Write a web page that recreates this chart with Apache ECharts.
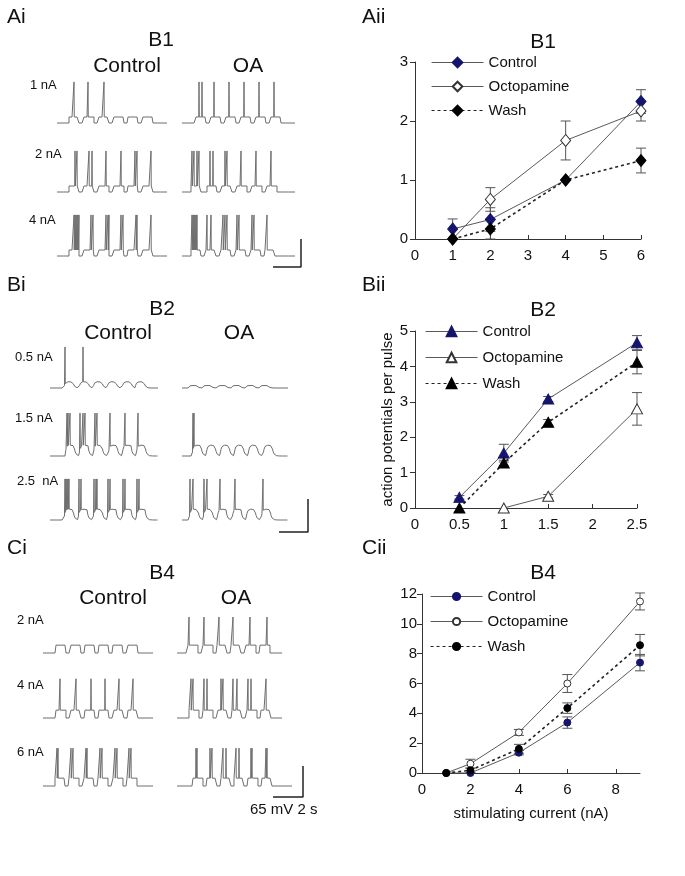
<!DOCTYPE html>
<html><head><meta charset="utf-8">
<script src="https://cdn.jsdelivr.net/npm/echarts@6/dist/echarts.min.js"></script>
<style>html,body{margin:0;padding:0;background:#fff}#c{width:685px;height:876px}</style>
</head><body><div id="c"></div><script>
// ================= DATA: dose-response plots (action potentials per pulse) =================
const seriesNames = ['Control', 'Octopamine', 'Wash'];

// Aii  (B1)
const xA = [1, 2, 4, 6];
const aControl = [0.17, 0.33, 1.0, 2.33];
const aControlErr = [0.17, 0.2, 0, 0.2];
const aOcto = [0, 0.67, 1.67, 2.17];
const aOctoErr = [0, 0.2, 0.33, 0.17];
const aWash = [0, 0.17, 1.0, 1.33];
const aWashErr = [0, 0.17, 0, 0.21];

// Bii  (B2)
const xB = [0.5, 1, 1.5, 2.5];
const bControl = [0.3, 1.55, 3.08, 4.67];
const bControlErr = [0.05, 0.25, 0.07, 0.2];
const bOcto = [null, 0, 0.33, 2.8];
const bOctoErr = [0, 0, 0.05, 0.46];
const bWash = [0, 1.27, 2.42, 4.12];
const bWashErr = [0, 0.08, 0.08, 0.33];

// Cii  (B4)
const xC = [1, 2, 4, 6, 9];
const cControl = [0, 0, 1.36, 3.38, 7.4];
const cControlErr = [0, 0, 0.15, 0.38, 0.55];
const cOcto = [0, 0.62, 2.72, 6.0, 11.5];
const cOctoErr = [0, 0.3, 0.2, 0.6, 0.57];
const cWash = [0, 0.18, 1.62, 4.35, 8.57];
const cWashErr = [0, 0.15, 0.3, 0.35, 0.72];

// ================= DATA: intracellular recordings (time in 1/14 s units, voltage in mV) =================
// B1
const a1CtlOn = [12, 27, 42, 57, 71, 86], a1CtlSp = [17, 31, 47];
const a1OaOn = [14, 29, 44, 59, 74, 89], a1OaSp = [17, 20, 32, 47, 62, 77, 92];
const a2CtlOn = [12, 27, 42, 57, 71, 86], a2CtlSp = [18, 20, 32, 35, 49, 64, 78, 80, 94];
const a2OaOn = [9, 25, 40, 55, 70, 85], a2OaSp = [10, 12, 15, 17, 28, 31, 43, 45, 59, 74, 89];
const a3CtlOn = [12, 27, 42, 57, 71, 86], a3CtlSp = [17, 18, 19, 20, 21, 22, 34, 36, 49, 51, 52, 64, 66, 79, 80, 94];
const a3OaOn = [9, 24, 39, 54, 69, 83], a3OaSp = [10, 11, 12, 13, 14, 15, 25, 29, 41, 43, 45, 55, 57, 70, 72, 85];
// B2
const b1CtlOn = [14, 29, 43, 57, 72, 85], b1CtlSp = [15, 33];
const b1OaOn = [6, 20, 35, 49, 63, 77], b1OaSp = [];
const b2CtlOn = [15, 29, 43, 58, 72, 86], b2CtlSp = [17, 18, 20, 30, 33, 35, 45, 47, 60, 75, 88];
const b2OaOn = [10, 24, 38, 52, 66, 81], b2OaSp = [11, 12];
const b3CtlOn = [14, 28, 43, 57, 72, 86], b3CtlSp = [15, 16, 17, 18, 19, 29, 31, 44, 46, 47, 58, 60, 73, 75, 87, 89];
const b3OaOn = [7, 21, 35, 50, 64, 79], b3OaSp = [8, 11, 22, 25, 38, 53, 81];
// B4
const c1CtlOn = [13, 28, 42, 56, 70, 85], c1CtlSp = [];
const c1OaOn = [11, 26, 40, 54, 69, 83], c1OaSp = [12, 27, 42, 56, 73, 90];
const c2CtlOn = [13, 28, 42, 56, 71, 85], c2CtlSp = [17, 33, 48, 62, 76, 90];
const c2OaOn = [12, 26, 41, 55, 70, 84], c2OaSp = [14, 16, 27, 30, 44, 46, 56, 60, 71, 74, 89];
const c3CtlOn = [12, 26, 41, 55, 70, 84], c3CtlSp = [14, 15, 28, 30, 43, 44, 57, 59, 72, 74, 86, 88];
const c3OaOn = [16, 30, 44, 57, 71, 85], c3OaSp = [19, 20, 33, 35, 46, 49, 59, 62, 74, 75, 89, 90];

// pulse plateau (mV) and spike peak (mV) per row
const pulseLevelA = [13, 13, 13], spikePeakA = [89, 89, 89];
const pulseLevelBCtl = [15, 26, 26], pulseLevelBOa = [6, 26, 26], spikePeakB = [89, 93, 89];
const pulseLevelC = [17, 17, 17], spikePeakC = [78, 85, 82];
const scaleBarSec = 2, scaleBarMv = 65;

// ================= BUILD =================
const FONT = '"Liberation Sans", Arial, Helvetica, sans-serif';
const grids = [], xAxes = [], yAxes = [], series = [];
function addGrid(g, xa, ya) { grids.push(g); const i = grids.length - 1; xAxes.push(Object.assign({gridIndex: i}, xa)); yAxes.push(Object.assign({gridIndex: i}, ya)); return i; }

function baseV(t, onsets, w, P, shape) {
  let v = 0;
  for (const on of onsets) {
    if (shape === 'square') { if (t >= on && t < on + w) v = P; }
    else {
      if (t >= on && t < on + w) v = Math.max(v, P * (1 - Math.exp(-(t - on) / 1.2)) * (1 - 0.15 * (t - on) / w));
      else if (t >= on + w && t < on + w + 10) v = Math.max(v, P * 0.85 * Math.exp(-(t - on - w) / 1.3));
    }
  }
  return v;
}
function buildTrace(len, onsets, w, P, shape, spikes, peak) {
  const times = [];
  for (let t = 0; t <= len; t += 0.5) times.push(t);
  if (shape === 'square') for (const on of onsets) times.push(on - 0.01, on + 0.01, on + w - 0.01, on + w + 0.01);
  for (const s of spikes) times.push(s - 0.25, s, s + 0.25);
  times.sort((a, b) => a - b);
  return times.filter(t => t >= 0 && t <= len).map(t => [t, spikes.includes(t) ? peak : baseV(t, onsets, w, P, shape)]);
}
const PX_PER_MV = 1 / 2.1667;
function addTrace(left, baseline, len, onsets, w, P, shape, spikes, peak) {
  const gi = addGrid({left: left, top: baseline - 100 * PX_PER_MV, width: len, height: 110 * PX_PER_MV},
    {type: 'value', min: 0, max: len, show: false}, {type: 'value', min: -10, max: 100, show: false});
  series.push({type: 'line', xAxisIndex: gi, yAxisIndex: gi, data: buildTrace(len, onsets, w, P, shape, spikes, peak),
    symbol: 'none', clip: false, silent: true, lineStyle: {color: '#6e6e6e', width: 1}});
}
function addScaleBar(left, top, w, h) {
  const gi = addGrid({left, top, width: w, height: h},
    {type: 'value', min: 0, max: scaleBarSec, show: false}, {type: 'value', min: 0, max: scaleBarMv, show: false});
  series.push({type: 'line', xAxisIndex: gi, yAxisIndex: gi, data: [[0, 0], [scaleBarSec, 0], [scaleBarSec, scaleBarMv]],
    symbol: 'none', clip: false, silent: true, lineStyle: {color: '#222', width: 1.5}});
}

// Panel Ai (B1)
const aRows = [[a1CtlOn, a1CtlSp, a1OaOn, a1OaSp], [a2CtlOn, a2CtlSp, a2OaOn, a2OaSp], [a3CtlOn, a3CtlSp, a3OaOn, a3OaSp]];
const aBase = [123, 192, 256];
aRows.forEach((r, i) => {
  addTrace(57, aBase[i], 110, r[0], 10, pulseLevelA[i], 'square', r[1], spikePeakA[i]);
  addTrace(182, aBase[i], 113, r[2], 10, pulseLevelA[i], 'square', r[3], spikePeakA[i]);
});
addScaleBar(273, 239, 28, 28);
// Panel Bi (B2)
const bRows = [[b1CtlOn, b1CtlSp, b1OaOn, b1OaSp], [b2CtlOn, b2CtlSp, b2OaOn, b2OaSp], [b3CtlOn, b3CtlSp, b3OaOn, b3OaSp]];
const bBase = [388, 456, 520];
bRows.forEach((r, i) => {
  addTrace(50, bBase[i], 108, r[0], 9, pulseLevelBCtl[i], 'hump', r[1], spikePeakB[i]);
  addTrace(182, bBase[i], 106, r[2], 9, pulseLevelBOa[i], 'hump', r[3], spikePeakB[i]);
});
addScaleBar(279, 499, 29, 33);
// Panel Ci (B4)
const cRows = [[c1CtlOn, c1CtlSp, c1OaOn, c1OaSp], [c2CtlOn, c2CtlSp, c2OaOn, c2OaSp], [c3CtlOn, c3CtlSp, c3OaOn, c3OaSp]];
const cBase = [653, 718, 786];
const cOaLen = [105, 105, 115];
cRows.forEach((r, i) => {
  addTrace(43, cBase[i], 110, r[0], 10, pulseLevelC[i], 'square', r[1], spikePeakC[i]);
  addTrace(177, cBase[i], cOaLen[i], r[2], 10, pulseLevelC[i], 'square', r[3], spikePeakC[i]);
});
addScaleBar(273, 766, 30, 31);

// ---- right-hand plots ----
const axLine = {show: true, lineStyle: {color: '#333', width: 1}};
const lbl = {color: '#111', fontSize: 15, fontFamily: FONT};
function addPlot(grid, xo, yo) {
  return addGrid(grid,
    Object.assign({type: 'value', axisLine: axLine, splitLine: {show: false},
      axisTick: {show: true, inside: true, length: 4, lineStyle: {color: '#333'}},
      axisLabel: Object.assign({margin: 9}, lbl)}, xo),
    Object.assign({type: 'value', axisLine: axLine, splitLine: {show: false},
      axisTick: {show: true, inside: false, length: 5, lineStyle: {color: '#333'}},
      axisLabel: Object.assign({margin: 7}, lbl)}, yo));
}
const gA = addPlot({left: 415, top: 62, width: 226, height: 177}, {min: 0, max: 6, interval: 1}, {min: 0, max: 3, interval: 1});
const gB = addPlot({left: 415, top: 331, width: 222, height: 177}, {min: 0, max: 2.5, interval: 0.5},
  {min: 0, max: 5, interval: 1, name: 'action potentials per pulse', nameLocation: 'middle', nameGap: 20,
   nameTextStyle: {fontSize: 15, fontFamily: FONT, color: '#111'}});
const gC = addPlot({left: 422, top: 594, width: 218, height: 179},
  {min: 0, max: 9, interval: 2, axisLabel: Object.assign({margin: 9, customValues: [0, 2, 4, 6, 8]}, lbl),
   axisTick: {show: true, inside: true, length: 4, lineStyle: {color: '#333'}, customValues: [2, 4, 6, 8]},
   name: 'stimulating current (nA)', nameLocation: 'middle', nameGap: 33,
   nameTextStyle: {fontSize: 15, fontFamily: FONT, color: '#111'}},
  {min: 0, max: 12, interval: 2, axisLabel: Object.assign({margin: 5}, lbl)});

const NAVY = '#15156e';
function addData(gi, name, xs, ys, errs, sym, size, fill, dotted) {
  const pts = xs.map((x, i) => [x, ys[i]]).filter(p => p[1] !== null);
  series.push({type: 'line', name, xAxisIndex: gi, yAxisIndex: gi, data: pts, symbol: sym, symbolSize: size,
    showSymbol: true, clip: false, z: 5,
    itemStyle: {color: fill, borderColor: fill === '#fff' ? '#333' : (fill === NAVY ? NAVY : '#000'), borderWidth: 1, opacity: 1},
    lineStyle: {color: dotted ? '#222' : '#5a5a5a', width: dotted ? 1.6 : 1, type: dotted ? [3, 3] : 'solid'}});
  const eb = xs.map((x, i) => [x, ys[i] - errs[i], ys[i] + errs[i]]).filter((p, i) => ys[i] !== null && errs[i] > 0);
  series.push({type: 'custom', xAxisIndex: gi, yAxisIndex: gi, data: eb, z: 3, silent: true,
    renderItem: (params, api) => {
      const x = api.value(0), lo = api.coord([x, api.value(1)]), hi = api.coord([x, api.value(2)]);
      const st = {stroke: '#555', lineWidth: 1};
      return {type: 'group', children: [
        {type: 'line', shape: {x1: hi[0], y1: hi[1], x2: lo[0], y2: lo[1]}, style: st},
        {type: 'line', shape: {x1: hi[0] - 5, y1: hi[1], x2: hi[0] + 5, y2: hi[1]}, style: st},
        {type: 'line', shape: {x1: lo[0] - 5, y1: lo[1], x2: lo[0] + 5, y2: lo[1]}, style: st}]};
    }});
}
const nA = seriesNames, nB = seriesNames.map(s => s + ' '), nC = seriesNames.map(s => s + '  ');
addData(gA, nA[0], xA, aControl, aControlErr, 'diamond', [10, 12], NAVY, false);
addData(gA, nA[1], xA, aOcto, aOctoErr, 'diamond', [10, 12], '#fff', false);
addData(gA, nA[2], xA, aWash, aWashErr, 'diamond', [10, 12], '#000', true);
addData(gB, nB[0], xB, bControl, bControlErr, 'triangle', [11, 10], NAVY, false);
addData(gB, nB[1], xB, bOcto, bOctoErr, 'triangle', [11, 10], '#fff', false);
addData(gB, nB[2], xB, bWash, bWashErr, 'triangle', [11, 10], '#000', true);
addData(gC, nC[0], xC, cControl, cControlErr, 'circle', 7, NAVY, false);
addData(gC, nC[1], xC, cOcto, cOctoErr, 'circle', 7, '#fff', false);
addData(gC, nC[2], xC, cWash, cWashErr, 'circle', 7, '#000', true);

function legend(left, top, gap, names, ih) {
  return {orient: 'vertical', left, top, padding: 0, itemWidth: 52, itemHeight: ih, itemGap: gap, data: names, selectedMode: false,
    lineStyle: {width: 1.1}, formatter: n => n.trim(), textStyle: {fontSize: 15, fontFamily: FONT, color: '#111', lineHeight: 15}};
}

function txt(text, x, y, size, align) {
  return {type: 'text', x, y, silent: true, style: {text, x: 0, y: 0, font: size + 'px ' + FONT, fill: '#111',
    textAlign: align || 'left', textVerticalAlign: 'middle', align: align || 'left', verticalAlign: 'middle'}};
}
const graphics = [
  txt('Ai', 7, 17, 21), txt('B1', 161, 40, 21, 'center'), txt('Control', 127, 66, 21, 'center'), txt('OA', 248, 66, 21, 'center'),
  txt('1 nA', 30, 85, 13), txt('2 nA', 35, 154, 13), txt('4 nA', 29, 220, 13),
  txt('Bi', 7, 285, 21), txt('B2', 162, 309, 21, 'center'), txt('Control', 118, 333, 21, 'center'), txt('OA', 239, 333, 21, 'center'),
  txt('0.5 nA', 15, 357, 13), txt('1.5 nA', 15, 418, 13), txt('2.5  nA', 17, 481, 13),
  txt('Ci', 7, 548, 21), txt('B4', 162, 573, 21, 'center'), txt('Control', 113, 598, 21, 'center'), txt('OA', 236, 598, 21, 'center'),
  txt('2 nA', 17, 620, 13), txt('4 nA', 17, 685, 13), txt('6 nA', 17, 752, 13),
  txt('65 mV 2 s', 250, 810, 15),
  txt('Aii', 362, 17, 21), txt('B1', 543, 42, 21, 'center'),
  txt('Bii', 362, 285, 21), txt('B2', 543, 310, 21, 'center'),
  txt('Cii', 362, 548, 21), txt('B4', 543, 573, 21, 'center')
];

const chart = echarts.init(document.getElementById('c'), null, {renderer: 'canvas'});
chart.setOption({
  animation: false,
  backgroundColor: '#fff',
  textStyle: {fontFamily: FONT},
  grid: grids, xAxis: xAxes, yAxis: yAxes, series,
  legend: [legend(431, 55, 9, nA, 12), legend(425, 324, 11, nB, 12), legend(430, 589, 10, nC, 9)],
  graphic: graphics
});
</script></body></html>
